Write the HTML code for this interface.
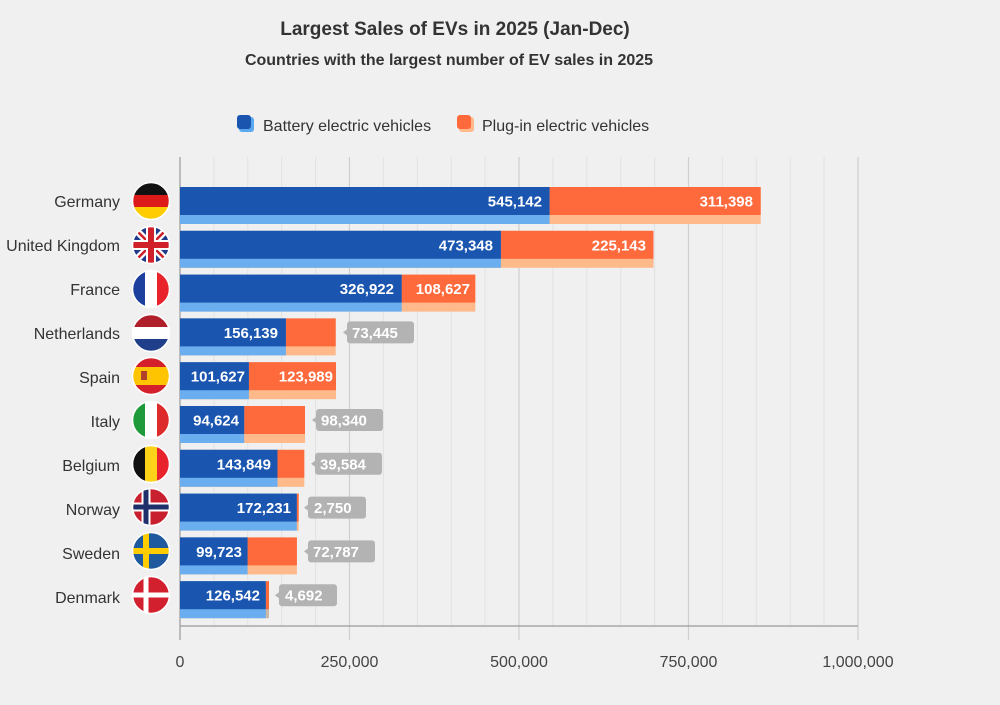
<!DOCTYPE html>
<html><head><meta charset="utf-8"><style>
body{margin:0;width:1000px;height:705px;background:#f0f0f0;overflow:hidden}
svg{display:block;font-family:"Liberation Sans",sans-serif}
.c{font-size:16px;fill:#333;text-anchor:end}
.v{font-size:15px;fill:#fff;font-weight:bold;text-anchor:end}
.o{font-size:15px;fill:#fff;font-weight:bold}
.t{font-size:16px;fill:#444;text-anchor:middle}
</style></head><body>
<svg width="1000" height="705" viewBox="0 0 1000 705">
<defs><clipPath id="cc"><circle cx="0" cy="0" r="18"/></clipPath></defs>
<text x="455" y="35" text-anchor="middle" font-size="19" font-weight="bold" fill="#333">Largest Sales of EVs in 2025 (Jan-Dec)</text>
<text x="449" y="65" text-anchor="middle" font-size="16" font-weight="bold" fill="#333">Countries with the largest number of EV sales in 2025</text>
<rect x="239" y="117" width="15" height="15" rx="3" fill="#5aa8f0"/><rect x="237" y="115" width="14" height="14" rx="3" fill="#1a56b0"/>
<text x="263" y="131" font-size="16" fill="#333">Battery electric vehicles</text>
<rect x="459" y="117" width="15" height="15" rx="3" fill="#ffb98a"/><rect x="457" y="115" width="14" height="14" rx="3" fill="#ff6a3d"/>
<text x="482" y="131" font-size="16" fill="#333">Plug-in electric vehicles</text>
<g stroke="#e2e2e2" stroke-width="1">
<line x1="213.9" y1="157" x2="213.9" y2="626"/><line x1="247.8" y1="157" x2="247.8" y2="626"/><line x1="281.7" y1="157" x2="281.7" y2="626"/><line x1="315.6" y1="157" x2="315.6" y2="626"/>
<line x1="383.4" y1="157" x2="383.4" y2="626"/><line x1="417.3" y1="157" x2="417.3" y2="626"/><line x1="451.2" y1="157" x2="451.2" y2="626"/><line x1="485.1" y1="157" x2="485.1" y2="626"/>
<line x1="552.9" y1="157" x2="552.9" y2="626"/><line x1="586.8" y1="157" x2="586.8" y2="626"/><line x1="620.7" y1="157" x2="620.7" y2="626"/><line x1="654.6" y1="157" x2="654.6" y2="626"/>
<line x1="722.4" y1="157" x2="722.4" y2="626"/><line x1="756.3" y1="157" x2="756.3" y2="626"/><line x1="790.2" y1="157" x2="790.2" y2="626"/><line x1="824.1" y1="157" x2="824.1" y2="626"/>
</g>
<g stroke="#cfcfcf" stroke-width="1.2">
<line x1="349.5" y1="157" x2="349.5" y2="640"/><line x1="519" y1="157" x2="519" y2="640"/><line x1="688.5" y1="157" x2="688.5" y2="640"/><line x1="858" y1="157" x2="858" y2="640"/>
</g>
<line x1="180" y1="626" x2="858" y2="626" stroke="#999" stroke-width="1.2"/>
<line x1="180" y1="157" x2="180" y2="640" stroke="#999" stroke-width="1.2"/>
<text class="t" x="180" y="667">0</text><text class="t" x="349.5" y="667">250,000</text><text class="t" x="519" y="667">500,000</text><text class="t" x="688.5" y="667">750,000</text><text class="t" x="858" y="667">1,000,000</text>

<!-- bars: template per row -->
<g>
<rect x="180" y="187" width="580.7" height="37" fill="#ffb98a"/><rect x="180" y="187" width="369.6" height="37" fill="#6aaeef"/>
<rect x="549.6" y="187" width="211.1" height="28" fill="#ff6a3d"/><rect x="180" y="187" width="369.6" height="28" fill="#1a56b0"/>
<text class="v" x="542" y="206.5">545,142</text><text class="v" x="753" y="206.5">311,398</text>
<text class="c" x="120" y="207">Germany</text>

<rect x="180" y="230.8" width="473.5" height="37" fill="#ffb98a"/><rect x="180" y="230.8" width="320.9" height="37" fill="#6aaeef"/>
<rect x="500.9" y="230.8" width="152.6" height="28" fill="#ff6a3d"/><rect x="180" y="230.8" width="320.9" height="28" fill="#1a56b0"/>
<text class="v" x="493" y="250.3">473,348</text><text class="v" x="646" y="250.3">225,143</text>
<text class="c" x="120" y="251">United Kingdom</text>

<rect x="180" y="274.6" width="295.3" height="37" fill="#ffb98a"/><rect x="180" y="274.6" width="221.7" height="37" fill="#6aaeef"/>
<rect x="401.7" y="274.6" width="73.6" height="28" fill="#ff6a3d"/><rect x="180" y="274.6" width="221.7" height="28" fill="#1a56b0"/>
<text class="v" x="394" y="294.1">326,922</text><text class="v" x="470" y="294.1">108,627</text>
<text class="c" x="120" y="295">France</text>

<rect x="180" y="318.4" width="155.7" height="37" fill="#ffb98a"/><rect x="180" y="318.4" width="105.9" height="37" fill="#6aaeef"/>
<rect x="285.9" y="318.4" width="49.8" height="28" fill="#ff6a3d"/><rect x="180" y="318.4" width="105.9" height="28" fill="#1a56b0"/>
<text class="v" x="278" y="337.9">156,139</text>
<path d="M350 321.4h61a3 3 0 0 1 3 3v16a3 3 0 0 1-3 3h-61a3 3 0 0 1-3-3v-5l-4-3 4-3v-5a3 3 0 0 1 3-3z" fill="#b3b3b3"/><text class="o" x="352" y="337.9">73,445</text>
<text class="c" x="120" y="339">Netherlands</text>

<rect x="180" y="362.2" width="156" height="37" fill="#ffb98a"/><rect x="180" y="362.2" width="68.9" height="37" fill="#6aaeef"/>
<rect x="248.9" y="362.2" width="87.1" height="28" fill="#ff6a3d"/><rect x="180" y="362.2" width="68.9" height="28" fill="#1a56b0"/>
<text class="v" x="245" y="381.7">101,627</text><text class="v" x="333" y="381.7">123,989</text>
<text class="c" x="120" y="383">Spain</text>

<rect x="180" y="406" width="125" height="37" fill="#ffb98a"/><rect x="180" y="406" width="64.2" height="37" fill="#6aaeef"/>
<rect x="244.2" y="406" width="60.8" height="28" fill="#ff6a3d"/><rect x="180" y="406" width="64.2" height="28" fill="#1a56b0"/>
<text class="v" x="239" y="425.5">94,624</text>
<path d="M319 409h61a3 3 0 0 1 3 3v16a3 3 0 0 1-3 3h-61a3 3 0 0 1-3-3v-5l-4-3 4-3v-5a3 3 0 0 1 3-3z" fill="#b3b3b3"/><text class="o" x="321" y="425.5">98,340</text>
<text class="c" x="120" y="427">Italy</text>

<rect x="180" y="449.8" width="124.3" height="37" fill="#ffb98a"/><rect x="180" y="449.8" width="97.5" height="37" fill="#6aaeef"/>
<rect x="277.5" y="449.8" width="26.8" height="28" fill="#ff6a3d"/><rect x="180" y="449.8" width="97.5" height="28" fill="#1a56b0"/>
<text class="v" x="271" y="469.3">143,849</text>
<path d="M318 452.8h61a3 3 0 0 1 3 3v16a3 3 0 0 1-3 3h-61a3 3 0 0 1-3-3v-5l-4-3 4-3v-5a3 3 0 0 1 3-3z" fill="#b3b3b3"/><text class="o" x="320" y="469.3">39,584</text>
<text class="c" x="120" y="471">Belgium</text>

<rect x="180" y="493.6" width="118.7" height="37" fill="#ffb98a"/><rect x="180" y="493.6" width="116.8" height="37" fill="#6aaeef"/>
<rect x="296.8" y="493.6" width="1.9" height="28" fill="#ff6a3d"/><rect x="180" y="493.6" width="116.8" height="28" fill="#1a56b0"/>
<text class="v" x="291" y="513.1">172,231</text>
<path d="M311 496.6h52a3 3 0 0 1 3 3v16a3 3 0 0 1-3 3h-52a3 3 0 0 1-3-3v-5l-4-3 4-3v-5a3 3 0 0 1 3-3z" fill="#b3b3b3"/><text class="o" x="314" y="513.1">2,750</text>
<text class="c" x="120" y="515">Norway</text>

<rect x="180" y="537.4" width="116.9" height="37" fill="#ffb98a"/><rect x="180" y="537.4" width="67.6" height="37" fill="#6aaeef"/>
<rect x="247.6" y="537.4" width="49.3" height="28" fill="#ff6a3d"/><rect x="180" y="537.4" width="67.6" height="28" fill="#1a56b0"/>
<text class="v" x="242" y="556.9">99,723</text>
<path d="M311 540.4h61a3 3 0 0 1 3 3v16a3 3 0 0 1-3 3h-61a3 3 0 0 1-3-3v-5l-4-3 4-3v-5a3 3 0 0 1 3-3z" fill="#b3b3b3"/><text class="o" x="313" y="556.9">72,787</text>
<text class="c" x="120" y="559">Sweden</text>

<rect x="180" y="581.2" width="89" height="37" fill="#c8b8a8"/><rect x="180" y="581.2" width="85.8" height="37" fill="#6aaeef"/>
<rect x="265.8" y="581.2" width="3.2" height="28" fill="#ff6a3d"/><rect x="180" y="581.2" width="85.8" height="28" fill="#1a56b0"/>
<text class="v" x="260" y="600.7">126,542</text>
<path d="M282 584.2h52a3 3 0 0 1 3 3v16a3 3 0 0 1-3 3h-52a3 3 0 0 1-3-3v-5l-4-3 4-3v-5a3 3 0 0 1 3-3z" fill="#b3b3b3"/><text class="o" x="285" y="600.7">4,692</text>
<text class="c" x="120" y="603">Denmark</text>
</g>

<!-- flags -->
<g transform="translate(151,201)"><g clip-path="url(#cc)"><rect x="-18" y="-18" width="36" height="12" fill="#111"/><rect x="-18" y="-6" width="36" height="12" fill="#dd1a1a"/><rect x="-18" y="6" width="36" height="12" fill="#ffcc00"/></g><circle r="18.5" fill="none" stroke="#fff" stroke-width="1.5"/></g>
<g transform="translate(151,245)"><g clip-path="url(#cc)"><rect x="-18" y="-18" width="36" height="36" fill="#1f3a8a"/><path d="M-18-18L18 18M18-18L-18 18" stroke="#fff" stroke-width="7"/><path d="M-18-18L18 18M18-18L-18 18" stroke="#d0202a" stroke-width="2.5"/><path d="M0-18V18M-18 0H18" stroke="#fff" stroke-width="10"/><path d="M0-18V18M-18 0H18" stroke="#d0202a" stroke-width="6"/></g><circle r="18.5" fill="none" stroke="#fff" stroke-width="1.5"/></g>
<g transform="translate(151,289)"><g clip-path="url(#cc)"><rect x="-18" y="-18" width="12" height="36" fill="#1c3f9e"/><rect x="-6" y="-18" width="12" height="36" fill="#fff"/><rect x="6" y="-18" width="12" height="36" fill="#e8232c"/></g><circle r="18.5" fill="none" stroke="#fff" stroke-width="1.5"/></g>
<g transform="translate(151,333)"><g clip-path="url(#cc)"><rect x="-18" y="-18" width="36" height="12" fill="#b0202a"/><rect x="-18" y="-6" width="36" height="12" fill="#fff"/><rect x="-18" y="6" width="36" height="12" fill="#1f3f8a"/></g><circle r="18.5" fill="none" stroke="#fff" stroke-width="1.5"/></g>
<g transform="translate(151,376)"><g clip-path="url(#cc)"><rect x="-18" y="-18" width="36" height="36" fill="#d3202a"/><rect x="-18" y="-9" width="36" height="18" fill="#ffc400"/><rect x="-10" y="-5" width="6" height="9" fill="#b0402a"/></g><circle r="18.5" fill="none" stroke="#fff" stroke-width="1.5"/></g>
<g transform="translate(151,420)"><g clip-path="url(#cc)"><rect x="-18" y="-18" width="12" height="36" fill="#1f9a3a"/><rect x="-6" y="-18" width="12" height="36" fill="#fff"/><rect x="6" y="-18" width="12" height="36" fill="#dd2a2a"/></g><circle r="18.5" fill="none" stroke="#fff" stroke-width="1.5"/></g>
<g transform="translate(151,464)"><g clip-path="url(#cc)"><rect x="-18" y="-18" width="12" height="36" fill="#111"/><rect x="-6" y="-18" width="12" height="36" fill="#ffd21a"/><rect x="6" y="-18" width="12" height="36" fill="#e8232c"/></g><circle r="18.5" fill="none" stroke="#fff" stroke-width="1.5"/></g>
<g transform="translate(151,507)"><g clip-path="url(#cc)"><rect x="-18" y="-18" width="36" height="36" fill="#c8202e"/><path d="M-5-18V18M-18 0H18" stroke="#fff" stroke-width="9"/><path d="M-5-18V18M-18 0H18" stroke="#1f2f6a" stroke-width="5"/></g><circle r="18.5" fill="none" stroke="#fff" stroke-width="1.5"/></g>
<g transform="translate(151,551)"><g clip-path="url(#cc)"><rect x="-18" y="-18" width="36" height="36" fill="#1f5a9e"/><path d="M-5-18V18M-18 0H18" stroke="#ffcc00" stroke-width="6"/></g><circle r="18.5" fill="none" stroke="#fff" stroke-width="1.5"/></g>
<g transform="translate(151,595)"><g clip-path="url(#cc)"><rect x="-18" y="-18" width="36" height="36" fill="#d3202e"/><path d="M-5-18V18M-18 0H18" stroke="#fff" stroke-width="5"/></g><circle r="18.5" fill="none" stroke="#fff" stroke-width="1.5"/></g>
</svg>
</body></html>
